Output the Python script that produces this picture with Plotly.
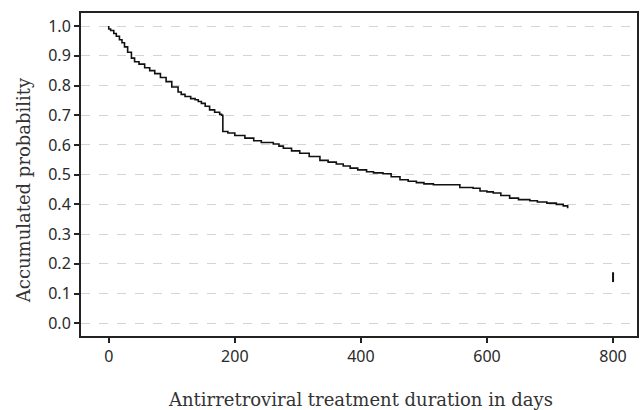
import plotly.graph_objects as go

# Kaplan-Meier style curve (days, accumulated probability)
days = [0, 0, 3, 8, 12, 17, 21, 25, 30, 36, 41, 48, 57, 65, 73, 82, 91, 100, 110, 115, 121,
        130, 137, 142, 147, 153, 160, 168, 176, 179, 181, 189, 200, 216, 230, 242, 261,
        270, 277, 290, 303, 318, 335, 348, 361, 372, 383, 395, 409, 420, 435, 448, 462,
        475, 488, 500, 515, 544, 557, 578, 589, 600, 610, 622, 636, 650, 668, 680, 695,
        710, 721, 728]
surv = [1.0, 0.99, 0.985, 0.975, 0.966, 0.954, 0.944, 0.93, 0.912, 0.892, 0.88, 0.872, 0.86,
        0.85, 0.84, 0.827, 0.813, 0.795, 0.778, 0.77, 0.763, 0.756, 0.752, 0.746, 0.74,
        0.73, 0.718, 0.71, 0.703, 0.70, 0.645, 0.64, 0.632, 0.623, 0.614, 0.608, 0.603,
        0.596, 0.589, 0.58, 0.572, 0.561, 0.548, 0.542, 0.536, 0.529, 0.522, 0.516, 0.51,
        0.506, 0.503, 0.493, 0.483, 0.478, 0.473, 0.469, 0.466, 0.466, 0.457, 0.454,
        0.445, 0.442, 0.438, 0.43, 0.421, 0.416, 0.412, 0.408, 0.404, 0.4, 0.395, 0.387]

# isolated censor mark
mark_day = [800]
mark_prob = [0.155]

x_ticks = [0, 200, 400, 600, 800]
y_ticks = [0.0, 0.1, 0.2, 0.3, 0.4, 0.5, 0.6, 0.7, 0.8, 0.9, 1.0]

x_title = "Antirretroviral treatment duration in days"
y_title = "Accumulated probability"

fig = go.Figure()
fig.add_trace(go.Scatter(x=days, y=surv, mode="lines",
                         line=dict(color="#111111", width=1.6, shape="hv"),
                         showlegend=False, hoverinfo="skip"))
fig.add_trace(go.Scatter(x=mark_day, y=mark_prob, mode="markers",
                         marker=dict(symbol="line-ns-open", size=7, color="#111111",
                                     line=dict(color="#111111", width=2)),
                         showlegend=False, hoverinfo="skip"))

axis_font = dict(family="Noto Sans", size=16, color="#2a2a2a")
title_font = dict(family="DejaVu Serif", size=18, color="#333333")

fig.update_layout(
    width=641, height=410,
    margin=dict(l=81, r=4, t=13, b=74, autoexpand=False),
    paper_bgcolor="white", plot_bgcolor="white",
    xaxis=dict(range=[-44, 838], tickvals=x_ticks, ticktext=[str(v) for v in x_ticks],
               showgrid=False, zeroline=False, showline=True, linecolor="#222222", linewidth=2,
               mirror=True, ticks="outside", ticklen=5, tickwidth=1.5, tickcolor="#222222",
               tickfont=axis_font, automargin=False),
    yaxis=dict(range=[-0.043, 1.044], tickvals=y_ticks, ticktext=[f"{v:.1f}" for v in y_ticks],
               showgrid=True, gridcolor="#d4d4d4", griddash="dash", gridwidth=1,
               zeroline=False, showline=True, linecolor="#222222", linewidth=2,
               mirror=True, ticks="outside", ticklen=5, tickwidth=1.5, tickcolor="#222222",
               tickfont=axis_font, automargin=False),
    annotations=[
        dict(text=x_title, xref="paper", yref="paper", x=0.503, y=-0.198,
             xanchor="center", yanchor="middle", showarrow=False, font=title_font),
        dict(text=y_title, xref="paper", yref="paper", x=-0.104, y=0.452,
             xanchor="center", yanchor="middle", textangle=-90, showarrow=False, font=title_font),
    ],
)

fig.write_html("out.html", config={"displayModeBar": False},
               post_script="document.body.style.margin='0';document.body.style.overflow='hidden';")
